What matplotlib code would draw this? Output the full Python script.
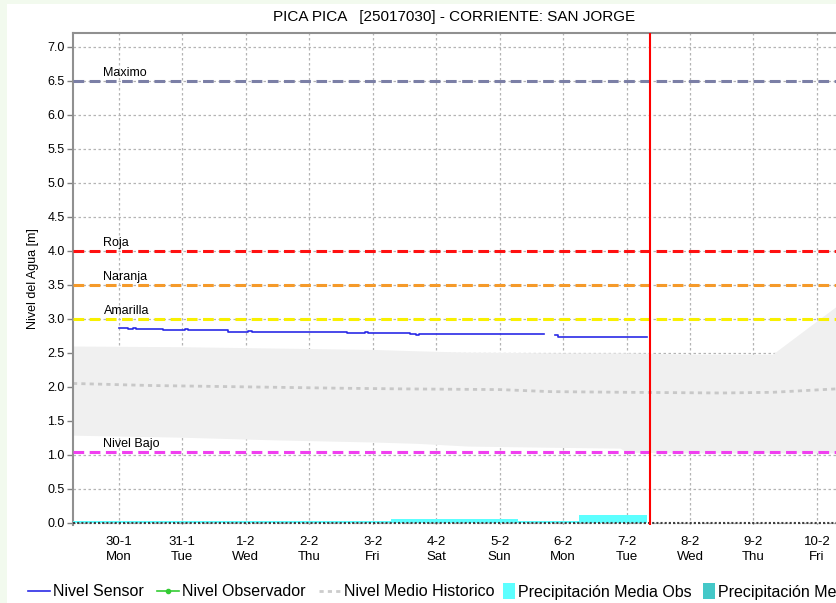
import numpy as np
import matplotlib.pyplot as plt
from matplotlib.lines import Line2D
from matplotlib.patches import Patch, Rectangle
from matplotlib.legend_handler import HandlerPatch

plt.rcParams['font.family'] = ['Liberation Sans', 'DejaVu Sans']

# days counted from 30-1 (day 0)
tick_days = list(range(12))
tick_labels = ['30-1\nMon', '31-1\nTue', '1-2\nWed', '2-2\nThu', '3-2\nFri', '4-2\nSat',
               '5-2\nSun', '6-2\nMon', '7-2\nTue', '8-2\nWed', '9-2\nThu', '10-2\nFri']

# Nivel Sensor (nan = gap)
sensor_x = [0.0, 0.14, 0.22, 0.27, 0.69, 1.0, 1.04, 1.09, 1.72, 2.03, 2.1, 3.59, 3.88, 3.93,
            4.59, 4.68, 4.73, 5.3, 5.36, 6.45, 6.52, 6.67, 6.7, 6.87, 6.92, 7.85, 7.92, 8.32]
sensor_y = [2.87, 2.85, 2.86, 2.85, 2.83, 2.83, 2.845, 2.83, 2.81, 2.82, 2.81, 2.79, 2.80, 2.79,
            2.77, 2.76, 2.77, 2.775, 2.77, 2.775, 2.77, 2.77, np.nan, 2.755, 2.74, 2.73, 2.74, 2.74]

# banda historica
band_x = [-0.72, 1.0, 2.5, 4.0, 4.7, 5.5, 7.0, 7.9, 8.0, 9.0, 10.3, 11.3]
band_hi = [2.60, 2.59, 2.57, 2.55, 2.53, 2.51, 2.50, 2.50, 2.50, 2.48, 2.48, 3.18]
band_lo = [1.29, 1.26, 1.22, 1.19, 1.17, 1.13, 1.11, 1.10, 1.04, 1.03, 1.03, 1.03]

# Nivel Medio Historico
med_x = [-0.72, 0.5, 2.0, 3.5, 4.5, 6.0, 6.8, 8.0, 9.5, 10.3, 11.3]
med_y = [2.05, 2.02, 2.00, 1.98, 1.97, 1.96, 1.93, 1.92, 1.91, 1.92, 1.97]

# Precipitacion media obs
precip_start = [-0.72, 4.29, 6.29, 7.25]
precip_end = [4.29, 6.29, 7.25, 8.32]
precip_val = [0.03, 0.055, 0.03, 0.12]

# umbrales
umbral_names = ['Maximo', 'Roja', 'Naranja', 'Amarilla', 'Nivel Bajo']
umbral_vals = [6.5, 4.0, 3.5, 3.0, 1.04]
umbral_colors = ['#7b7fa6', '#ff1010', '#f59a2a', '#f8f000', '#f040f0']

now_day = 8.37

fig = plt.figure(figsize=(8.36, 6.03), dpi=100)
fig.patch.set_facecolor('#f2faee')
fig.patches.append(Rectangle((7 / 836, 0), 1, 1 - 4 / 603, transform=fig.transFigure,
                             facecolor='white', edgecolor='none', zorder=-10))

ax = fig.add_axes([73 / 836, 78 / 603, 1 - 73 / 836, (525 - 33) / 603])
ax.set_facecolor('white')

ax.fill_between(band_x, band_lo, band_hi, color='#f0f0f0', lw=0, zorder=1)
ax.plot(med_x, med_y, color='#c8c8c8', lw=2, dashes=(1.5, 1.5), zorder=2)

ax.bar(precip_start, precip_val, width=np.array(precip_end) - np.array(precip_start),
       align='edge', color='#5cffff', lw=0, zorder=3)

for name, v, c in zip(umbral_names, umbral_vals, umbral_colors):
    ax.axhline(v, color=c, lw=2.2, dashes=(3.5, 1.8), zorder=4)
    ax.text(-0.24, v + 0.03, name, fontsize=9, va='bottom', ha='left', zorder=6)

ax.plot(sensor_x, sensor_y, color='#2a2ae6', lw=1.2, drawstyle='steps-post', zorder=5)

ax.axvline(now_day, color='#ff0000', lw=1.5, zorder=6)
ax.axhline(0, color='#404040', lw=1.5, dashes=(1, 1), zorder=5)

ax.set_xlim(-0.72, 11.3)
ax.set_ylim(-0.03, 7.2)
ax.set_yticks(np.arange(0, 7.01, 0.5))
ax.set_yticklabels(['%.1f' % v for v in np.arange(0, 7.01, 0.5)], fontsize=9)
ax.set_xticks(tick_days)
ax.set_xticklabels(tick_labels, fontsize=9.5, linespacing=1.35)
ax.tick_params(axis='y', length=4, width=1, color='#808080', pad=2)
ax.tick_params(axis='x', length=0, pad=8)

ax.grid(True, color='#b4b4b4', lw=0.9, dashes=(2, 2))
ax.set_axisbelow(True)

for s in ['right', 'bottom']:
    ax.spines[s].set_visible(False)
for s in ['left', 'top']:
    ax.spines[s].set_color('#909090')
    ax.spines[s].set_linewidth(1.5)

ax.set_ylabel('Nivel del Agua [m]', fontsize=9, labelpad=6)
ax.set_title('PICA PICA   [25017030] - CORRIENTE: SAN JORGE', fontsize=11, pad=9)


# patch de leyenda alto y angosto
def tall_box(legend, orig_handle, xdescent, ydescent, width, height, fontsize):
    h = 11.5
    return Rectangle((-xdescent, -ydescent + height / 2 - h / 2), width, h)


line_handles = [
    Line2D([], [], color='#2a2ae6', lw=1.2),
    Line2D([], [], color='#33cc33', lw=1.2, marker='o', markersize=3),
    Line2D([], [], color='#cccccc', lw=2, dashes=(1.5, 1.5)),
]
line_labels = ['Nivel Sensor', 'Nivel Observador', 'Nivel Medio Historico']
box_handles = [
    Patch(facecolor='#5cffff', edgecolor='none'),
    Patch(facecolor='#44c8c8', edgecolor='none'),
]
box_labels = ['Precipitación Media Obs', 'Precipitación Me']

leg_y = 1 - 592 / 603
fig.legend(line_handles, line_labels, loc='center left', bbox_to_anchor=(28 / 836, leg_y),
           ncol=3, frameon=False, fontsize=11.5, handlelength=1.38, handletextpad=0.18,
           columnspacing=0.85, borderaxespad=0, borderpad=0)
fig.legend(box_handles, box_labels, loc='center left', bbox_to_anchor=(503 / 836, leg_y),
           ncol=2, frameon=False, fontsize=11.5, handlelength=0.75, handletextpad=0.19,
           columnspacing=0.69, borderaxespad=0, borderpad=0,
           handler_map={Patch: HandlerPatch(patch_func=tall_box)})

fig.savefig('out.png', dpi=100)
